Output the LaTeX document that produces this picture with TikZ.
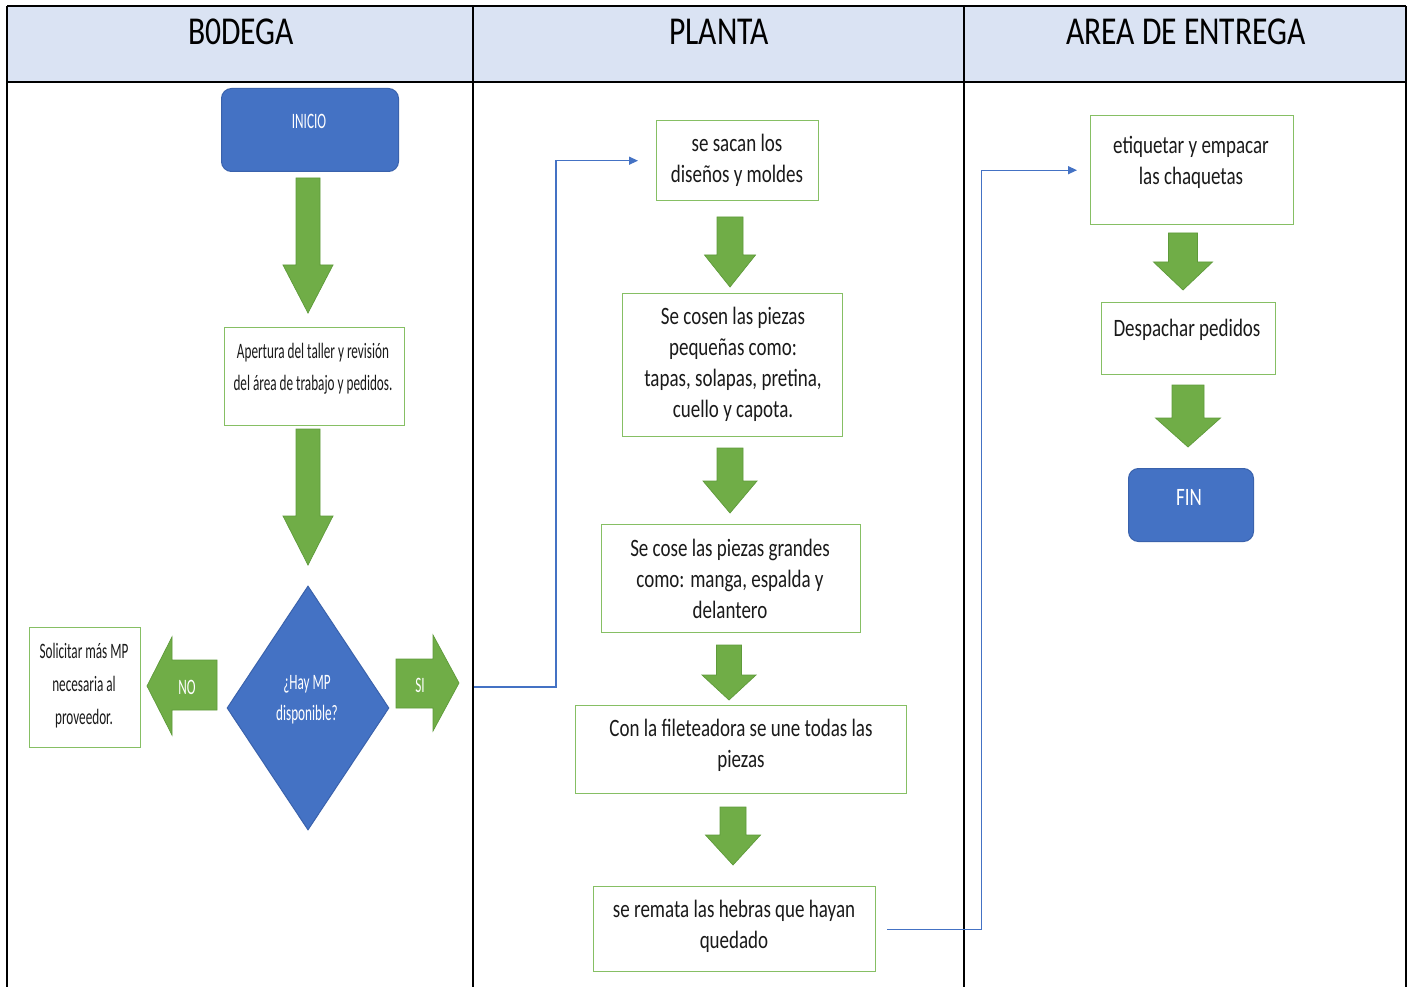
\documentclass[tikz,border=0pt]{standalone}
\usepackage{fontspec}
\setmainfont{Carlito}
\newfontfamily\calN{Carlito}[FakeStretch=0.76]
\newfontfamily\calH{Carlito}[FakeStretch=0.8]
\newfontfamily\calC{Carlito}[FakeStretch=0.6]
\usetikzlibrary{arrows.meta,shapes.geometric}
\definecolor{hdr}{HTML}{DAE3F3}
\definecolor{gbord}{HTML}{86BF64}
\definecolor{gfill}{HTML}{70AD47}
\definecolor{gedge}{HTML}{5E9A3A}
\definecolor{bfill}{HTML}{4472C4}
\definecolor{bedge}{HTML}{3A62AC}
\definecolor{txt}{HTML}{1A1A1A}
\tikzset{
  lane/.style={draw=black, line width=1.3pt},
  hdrtext/.style={font=\calH\fontsize{39.5}{39.5}\selectfont, text=black, inner sep=0pt},
  pbox/.style={draw=gbord, line width=1.4pt, fill=white, inner sep=0pt, anchor=north west},
  ptext/.style={font=\calN\fontsize{25}{31}\selectfont, text=txt, align=center, inner sep=0pt},
  ctext/.style={font=\calC\fontsize{22}{32}\selectfont, text=txt, align=center, inner sep=0pt},
  wtext/.style={font=\calC\fontsize{22}{31}\selectfont, text=white, align=center, inner sep=0pt},
  term/.style={draw=bedge, line width=1pt, fill=bfill, rounded corners=10pt, inner sep=0pt, anchor=north west},
  garrow/.style={fill=gfill, draw=gedge, line width=0.7pt},
  conn/.style={draw=bfill, line width=1.3pt, -{Triangle[length=9pt,width=8pt]}},
}
\newcommand\gdown[6]{%
  \filldraw[garrow] (#1-#5,#2) -- (#1+#5,#2) -- (#1+#5,#3) -- (#1+#6,#3) -- (#1,#4)
    -- (#1-#6,#3) -- (#1-#5,#3) -- cycle;}
\begin{document}
\begin{tikzpicture}[x=1pt,y=-1pt]
\useasboundingbox (0,0) rectangle (1414,987);
\fill[white] (0,0) rectangle (1414,987);
% table
\fill[hdr] (7,6) rectangle (1406,82);
\draw[lane] (7,6) -- (1406,6);
\draw[lane] (7,82) -- (1406,82);
\draw[lane] (7,6) -- (7,987);
\draw[lane] (473,6) -- (473,987);
\draw[lane] (964,6) -- (964,987);
\draw[lane] (1406,6) -- (1406,987);
\node[hdrtext] (h1) at (241,32) {B0DEGA};
\node[hdrtext] (h2) at (719,32) {PLANTA};
\node[hdrtext] (h3) at (1186,32) {AREA DE ENTREGA};

% ---------- BODEGA ----------
\node[term, minimum width=177pt, minimum height=83pt] (ini) at (221,88) {};
\node[wtext] (init) at (309,121) {INICIO};
\gdown{308}{178}{265}{313}{12}{25}
\node[pbox, minimum width=180pt, minimum height=98pt] (ap) at (224,327) {};
\node[ctext] (apt) at (313,369) {Apertura del taller y revisión\\del área de trabajo y pedidos.};
\gdown{308}{429}{516}{565}{12}{25}
\node[diamond, minimum width=162pt, minimum height=244pt, fill=bfill, draw=bedge, line width=1pt, inner sep=0pt] (dec) at (308,708) {};
\node[wtext] (dect) at (307,700) {¿Hay MP\\disponible?};
% NO arrow
\filldraw[garrow] (217,660) -- (217,710) -- (172,710) -- (172,735) -- (147,686) -- (172,637) -- (172,660) -- cycle;
\node[wtext] (no) at (187,687) {NO};
% SI arrow
\filldraw[garrow] (396,659) -- (433,659) -- (433,635) -- (459,683) -- (433,731) -- (433,708) -- (396,708) -- cycle;
\node[wtext] (si) at (420,685) {SI};
\node[pbox, minimum width=111pt, minimum height=120pt] (sol) at (29,627) {};
\node[ctext, font=\calC\fontsize{22}{33}\selectfont] (solt) at (84,686) {Solicitar más MP\\necesaria al\\proveedor.};

% ---------- PLANTA ----------
\node[pbox, minimum width=162pt, minimum height=80pt] (b1) at (656,120) {};
\node[ptext] (b1t) at (737,160.5) {se sacan los\\diseños y moldes};
\gdown{730}{217}{255}{287}{13}{25.5}
\node[pbox, minimum width=220pt, minimum height=143pt] (b2) at (622,293) {};
\node[ptext] (b2t) at (733,364.5) {Se cosen las piezas\\pequeñas como:\\tapas, solapas, pretina,\\cuello y capota.};
\gdown{730}{448}{481}{513}{13}{27}
\node[pbox, minimum width=259pt, minimum height=108pt] (b3) at (601,524) {};
\node[ptext] (b3t) at (730,579) {Se cose las piezas grandes\\como: manga, espalda y\\delantero};
\gdown{729}{645}{675}{700}{12.5}{27}
\node[pbox, minimum width=331pt, minimum height=88pt] (b4) at (575,705) {};
\node[ptext] (b4t) at (741,745.5) {Con la fileteadora se une todas las\\piezas};
\gdown{733}{807}{835}{865}{13}{27.5}
\node[pbox, minimum width=282pt, minimum height=85pt] (b5) at (593,886) {};
\node[ptext] (b5t) at (734,926.5) {se remata las hebras que hayan\\quedado};

% ---------- AREA DE ENTREGA ----------
\node[pbox, minimum width=203pt, minimum height=109pt] (e1) at (1090,115) {};
\node[ptext] (e1t) at (1191,162) {etiquetar y empacar\\las chaquetas};
\gdown{1183}{233}{262}{290}{14.5}{29.5}
\node[pbox, minimum width=174pt, minimum height=72pt] (e2) at (1101,302) {};
\node[ptext] (e2t) at (1187,330) {Despachar pedidos};
\gdown{1188}{385}{418}{447}{16}{32.5}
\node[term, minimum width=125pt, minimum height=73pt] (fin) at (1128,468) {};
\node[ptext, text=white] (fint) at (1189,497) {FIN};

% ---------- connectors ----------
\coordinate (c1s) at (474,687);
\draw[conn, shorten >=18pt] (c1s) -- ++(82,0) |- (b1.west);
\draw[conn, shorten <=11pt, shorten >=13pt] (b5.east) -- ++(105,0) |- (e1.west);
\end{tikzpicture}
\end{document}
